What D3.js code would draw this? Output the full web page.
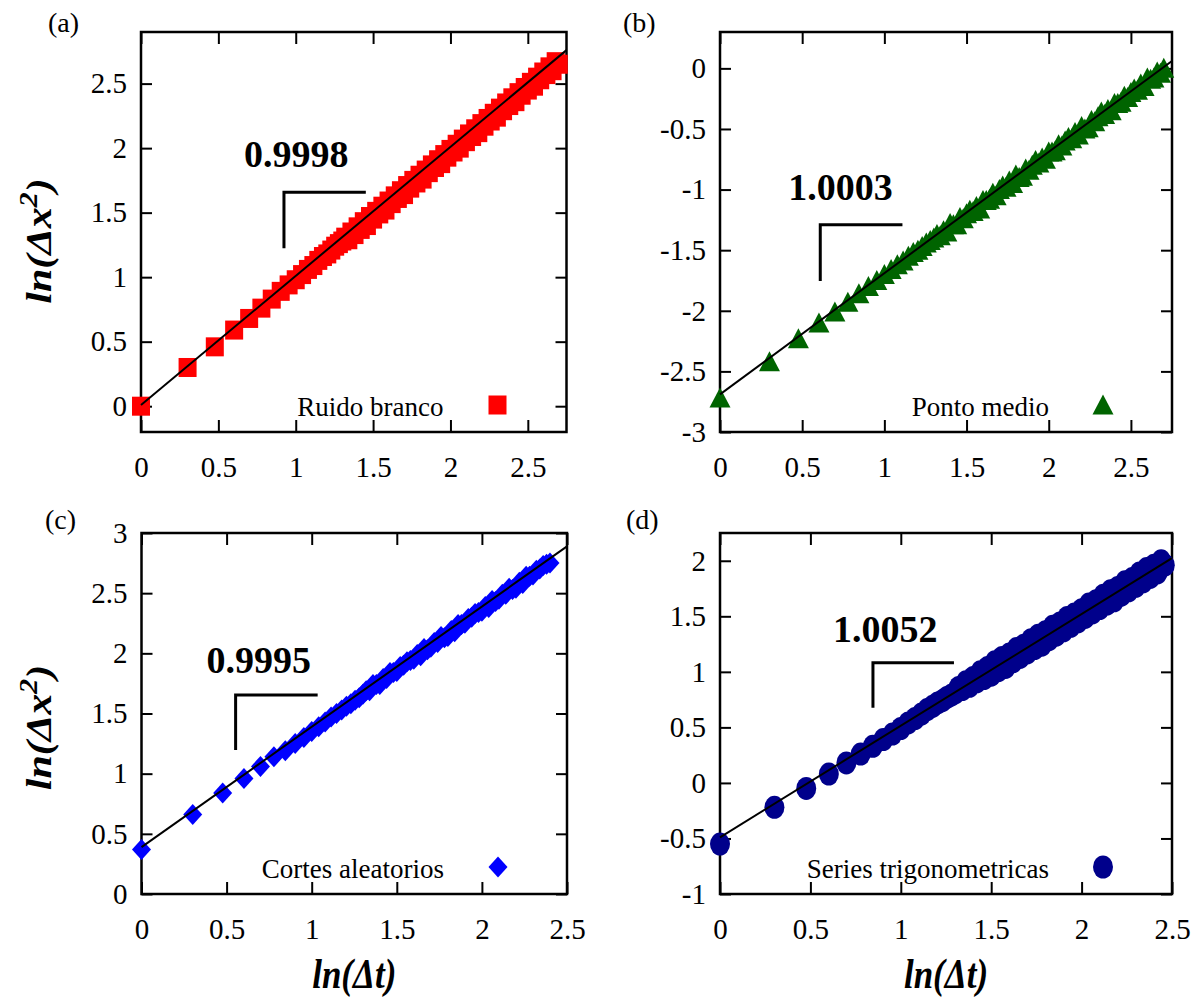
<!DOCTYPE html>
<html>
<head>
<meta charset="utf-8">
<script src="https://cdn.jsdelivr.net/npm/d3@7"></script>
<style>
	body { margin: 0; background: #fff; }
	svg { display: block; }
	svg text { font-family: "Liberation Serif", "DejaVu Serif", serif; fill: #000; }
	.frame { fill: none; stroke: #000; stroke-width: 2.5; }
	.axis path.domain { display: none; }
	.axis line { stroke: #000; stroke-width: 2; }
	.axis text { font-size: 29px; }
	.fit-line { fill: none; stroke: #000; stroke-width: 2; }
	.bracket { fill: none; stroke: #000; stroke-width: 3; }
	.slope-label { font-size: 38px; font-weight: bold; }
	.legend-label { font-size: 27px; }
	.panel-label { font-size: 28px; }
	.axis-title { font-size: 35px; font-weight: bold; font-style: italic; }
</style>
</head>
<body>
<svg id="chart" width="1202" height="997"></svg>
<script>

// ln(Δt) values, shared by the four series (each series uses the first n)
const lnDt = [0, 0.301, 0.477, 0.602, 0.699, 0.778, 0.845, 0.903, 0.954, 1.0,
	1.041, 1.079, 1.114, 1.146, 1.176, 1.204, 1.23, 1.255, 1.279, 1.301,
	1.32, 1.34, 1.36, 1.38, 1.40, 1.42, 1.44, 1.46, 1.48, 1.50,
	1.52, 1.54, 1.56, 1.58, 1.60, 1.62, 1.64, 1.66, 1.68, 1.70,
	1.72, 1.74, 1.76, 1.78, 1.80, 1.82, 1.84, 1.86, 1.88, 1.90,
	1.92, 1.94, 1.96, 1.98, 2.00, 2.02, 2.04, 2.06, 2.08, 2.10,
	2.12, 2.14, 2.16, 2.18, 2.20, 2.22, 2.24, 2.26, 2.28, 2.30,
	2.32, 2.34, 2.36, 2.38, 2.40, 2.42, 2.44, 2.46, 2.48, 2.50,
	2.52, 2.54, 2.56, 2.58, 2.60, 2.62, 2.64, 2.66, 2.68, 2.70];

// ln(Δx²) per series
const yRuido = [0.00, 0.30, 0.46, 0.59, 0.68, 0.76, 0.83, 0.89, 0.94, 0.98,
	1.02, 1.06, 1.09, 1.13, 1.16, 1.18, 1.21, 1.24, 1.26, 1.28,
	1.31, 1.29, 1.35, 1.33, 1.39, 1.37, 1.43, 1.40, 1.47, 1.45,
	1.51, 1.49, 1.55, 1.52, 1.59, 1.57, 1.63, 1.61, 1.67, 1.64,
	1.71, 1.69, 1.75, 1.73, 1.79, 1.76, 1.83, 1.81, 1.87, 1.85,
	1.91, 1.88, 1.95, 1.93, 1.99, 1.97, 2.03, 2.00, 2.07, 2.05,
	2.11, 2.09, 2.15, 2.12, 2.19, 2.17, 2.23, 2.21, 2.27, 2.24,
	2.31, 2.29, 2.35, 2.33, 2.39, 2.36, 2.43, 2.41, 2.47, 2.45,
	2.51, 2.48, 2.55, 2.53, 2.59, 2.57, 2.63, 2.60, 2.67, 2.65];

const yPonto = [-2.72, -2.42, -2.23, -2.10, -2.01, -1.93, -1.86, -1.80, -1.75, -1.70,
	-1.66, -1.62, -1.59, -1.55, -1.52, -1.50, -1.47, -1.44, -1.42, -1.40,
	-1.37, -1.38, -1.34, -1.35, -1.28, -1.29, -1.29, -1.23, -1.24, -1.20,
	-1.17, -1.18, -1.14, -1.16, -1.09, -1.09, -1.08, -1.03, -1.05, -1.00,
	-0.97, -0.98, -0.93, -0.95, -0.88, -0.90, -0.89, -0.83, -0.84, -0.80,
	-0.76, -0.78, -0.74, -0.75, -0.69, -0.69, -0.68, -0.63, -0.64, -0.60,
	-0.57, -0.58, -0.53, -0.55, -0.48, -0.50, -0.49, -0.43, -0.44, -0.40,
	-0.36, -0.38, -0.34, -0.35, -0.29, -0.29, -0.28, -0.23, -0.24, -0.20,
	-0.17, -0.18, -0.13, -0.15, -0.08, -0.09, -0.08, -0.03, -0.04, 0.00];

const yCortes = [0.37, 0.66, 0.84, 0.96, 1.06, 1.14, 1.19, 1.25, 1.30, 1.35,
	1.39, 1.43, 1.47, 1.50, 1.53, 1.56, 1.58, 1.61, 1.63, 1.66,
	1.69, 1.69, 1.74, 1.74, 1.74, 1.79, 1.79, 1.84, 1.84, 1.85,
	1.89, 1.90, 1.93, 1.94, 1.95, 1.99, 1.98, 2.04, 2.03, 2.05,
	2.09, 2.09, 2.14, 2.13, 2.14, 2.19, 2.18, 2.24, 2.24, 2.25,
	2.29, 2.30, 2.33, 2.34, 2.35, 2.39, 2.38, 2.44, 2.43, 2.45,
	2.49, 2.49, 2.54, 2.53, 2.54, 2.59, 2.58, 2.64, 2.64, 2.65,
	2.69, 2.70, 2.73, 2.74, 2.75];

const yTrig = [-0.55, -0.22, -0.05, 0.08, 0.18, 0.26, 0.33, 0.39, 0.44, 0.49,
	0.54, 0.58, 0.62, 0.66, 0.69, 0.72, 0.74, 0.77, 0.79, 0.81,
	0.86, 0.84, 0.91, 0.87, 0.95, 0.91, 1.00, 0.94, 1.04, 0.97,
	1.09, 1.01, 1.13, 1.04, 1.16, 1.09, 1.21, 1.13, 1.24, 1.17,
	1.29, 1.21, 1.33, 1.24, 1.36, 1.29, 1.41, 1.33, 1.44, 1.37,
	1.49, 1.41, 1.52, 1.45, 1.56, 1.49, 1.61, 1.53, 1.64, 1.57,
	1.69, 1.61, 1.73, 1.64, 1.76, 1.69, 1.81, 1.73, 1.84, 1.77,
	1.89, 1.81, 1.93, 1.85, 1.96, 1.89, 2.00, 1.96];

// linear fits: slope and intercept
const fitSlopes = [0.9998, 1.0003, 0.9995, 1.0052];
const fitIntercepts = [0.01, -2.69, 0.39, -0.49];

// tick labels
const xTicksLong = [0, 0.5, 1, 1.5, 2, 2.5];
const yTicksA = [0, 0.5, 1, 1.5, 2, 2.5];
const yTicksB = [-3, -2.5, -2, -1.5, -1, -0.5, 0];
const yTicksC = [0, 0.5, 1, 1.5, 2, 2.5, 3];
const yTicksD = [-1, -0.5, 0, 0.5, 1, 1.5, 2];

const seriesNames = ['Ruido branco', 'Ponto medio', 'Cortes aleatorios', 'Series trigonometricas'];
const panelLetters = ['(a)', '(b)', '(c)', '(d)'];

// slope bracket: corner (x, y), horizontal end x, vertical end y, label pos
const bracketX = [0.924, 0.61, 0.553, 0.846];
const bracketY = [1.659, -1.291, 1.654, 1.081];
const bracketEndX = [1.453, 1.11, 1.035, 1.294];
const bracketEndY = [1.225, -1.755, 1.197, 0.676];
const slopeLabelX = [0.665, 0.415, 0.382, 0.625];
const slopeLabelY = [1.853, -1.084, 1.837, 1.27];


class LnPanel {

	/**
	* constructor function
	* @param {object} svg d3 selection of the svg
	* @param {object} options panel settings
	* @returns {undefined}
	*/
	constructor(svg, options) {
		let defaults = {
			box: {left: 0, top: 0, right: 100, bottom: 100},
			xDomain: [0, 2.5],
			yDomain: [0, 3],
			yTicks: [],
			color: '#000',
			shape: 'square',
			showXTitle: false,
			showYTitle: false,
			titleStretch: 1.2// the source figure is a bit stretched vertically
		};
		this.settings = Object.assign({}, defaults, options);
		this.svg = svg;
		let box = this.settings.box;
		this.width = box.right - box.left;
		this.height = box.bottom - box.top;
		this.g = svg.append('g')
			.attr('transform', 'translate(' + box.left + ',' + box.top + ')');

		this.x = d3.scaleLinear().domain(this.settings.xDomain).range([0, this.width]);
		this.y = d3.scaleLinear().domain(this.settings.yDomain).range([this.height, 0]);
	}


	/**
	* draw a marker of this panel's shape into a selection of g's
	*/
	_drawMarker(sel) {
		let s = this.settings;
		if (s.shape === 'square') {
			sel.append('rect').attr('x', -9).attr('y', -9.5).attr('width', 18).attr('height', 19);
		} else if (s.shape === 'triangle') {
			sel.append('path').attr('d', 'M0,-10.5L10.5,9.5L-10.5,9.5Z');
		} else if (s.shape === 'diamond') {
			sel.append('path').attr('d', 'M0,-10.5L9.5,0L0,10.5L-9.5,0Z');
		} else {
			sel.append('ellipse').attr('rx', 10).attr('ry', 11.5);
		}
		sel.attr('fill', s.color);
	}


	_drawAxes() {
		let fmt = d => String(d);
		let x = this.x, y = this.y;

		let axes = [
			this.g.append('g').attr('transform', 'translate(0,' + this.height + ')')
				.call(d3.axisBottom(x).tickValues(xTicksLong).tickSize(-12).tickPadding(24).tickFormat(fmt)),
			this.g.append('g')
				.call(d3.axisTop(x).tickValues(xTicksLong).tickSize(-12).tickFormat('')),
			this.g.append('g')
				.call(d3.axisLeft(y).tickValues(this.settings.yTicks).tickSize(-11).tickPadding(14).tickFormat(fmt)),
			this.g.append('g').attr('transform', 'translate(' + this.width + ',0)')
				.call(d3.axisRight(y).tickValues(this.settings.yTicks).tickSize(-11).tickFormat(''))
		];
		// drop d3's default sans-serif font so the css one applies
		axes.forEach(a => a.attr('class', 'axis').attr('font-family', null).attr('font-size', null));

		this.g.append('rect').attr('class', 'frame')
			.attr('width', this.width).attr('height', this.height);
	}


	_drawPoints() {
		let data = this.settings.values.map((v, i) => ({x: lnDt[i], y: v}));

		let marks = this.g.append('g')
			.selectAll('.mark')
			.data(data)
			.enter()
			.append('g')
			.attr('class', 'mark')
			.attr('transform', d => 'translate(' + this.x(d.x) + ',' + this.y(d.y) + ')');
		this._drawMarker(marks);
	}


	_drawFit() {
		let s = this.settings;
		let line = d3.line()
			.x(d => this.x(d))
			.y(d => this.y(s.slope * d + s.intercept));
		this.g.append('path').attr('class', 'fit-line')
			.attr('d', line(this.x.domain()));
	}


	_drawBracket() {
		let s = this.settings, b = s.bracket;
		let pts = [[b.endX, b.y], [b.x, b.y], [b.x, b.endY]];
		this.g.append('path').attr('class', 'bracket')
			.attr('d', d3.line().x(d => this.x(d[0])).y(d => this.y(d[1]))(pts));
		this.g.append('text').attr('class', 'slope-label')
			.attr('x', this.x(b.labelX)).attr('y', this.y(b.labelY))
			.text(s.slope.toFixed(4));
	}


	_drawLegend() {
		this.g.append('text').attr('class', 'legend-label')
			.attr('x', this.width - 123).attr('y', this.height - 16)
			.attr('text-anchor', 'end')
			.text(this.settings.name);
		let m = this.g.append('g')
			.attr('transform', 'translate(' + (this.width - 69) + ',' + (this.height - 27) + ')');
		this._drawMarker(m);
	}


	_drawTitles() {
		let s = this.settings,
			k = s.titleStretch;
		this.svg.append('text').attr('class', 'panel-label')
			.attr('x', s.letterPos[0]).attr('y', s.letterPos[1])
			.text(s.letter);

		if (s.showXTitle) {
			this.g.append('text').attr('class', 'axis-title')
				.attr('transform', 'translate(' + (this.width / 2) + ',' + (this.height + 94) + ') scale(1,' + k + ')')
				.attr('text-anchor', 'middle')
				.text('ln(Δt)');
		}
		if (s.showYTitle) {
			let t = this.svg.append('text').attr('class', 'axis-title')
				.attr('text-anchor', 'middle')
				.attr('transform', 'translate(51,' + (s.box.top + this.height / 2 + s.yTitleShift) + ') rotate(-90) scale(' + k + ',1)');
			t.append('tspan').text('ln(Δx');
			t.append('tspan').attr('dy', -14).style('font-size', '25px').text('2');
			t.append('tspan').attr('dy', 14).text(')');
		}
	}


	draw() {
		this._drawAxes();
		this._drawPoints();
		this._drawFit();
		this._drawBracket();
		this._drawLegend();
		this._drawTitles();
	}
}


const svg = d3.select('#chart');

const panelSeries = [yRuido, yPonto, yCortes, yTrig];
const panelOpts = [
	{box: {left: 141, top: 32, right: 566.5, bottom: 432}, xDomain: [0, 2.75], yDomain: [-0.2, 2.9], yTicks: yTicksA,
		color: '#ff0000', shape: 'square', showYTitle: true, yTitleShift: 9, letterPos: [48, 32]},
	{box: {left: 720, top: 32, right: 1172, bottom: 432}, xDomain: [0, 2.75], yDomain: [-3, 0.3], yTicks: yTicksB,
		color: '#006400', shape: 'triangle', letterPos: [623, 32]},
	{box: {left: 141.5, top: 533, right: 567, bottom: 894}, xDomain: [0, 2.5], yDomain: [0, 3], yTicks: yTicksC,
		color: '#0000ff', shape: 'diamond', showXTitle: true, showYTitle: true, yTitleShift: 14, letterPos: [45, 529]},
	{box: {left: 720, top: 533, right: 1172, bottom: 894}, xDomain: [0, 2.5], yDomain: [-1, 2.25], yTicks: yTicksD,
		color: '#00008b', shape: 'circle', showXTitle: true, letterPos: [626, 529]}
];

panelOpts.forEach((opt, i) => {
	let panel = new LnPanel(svg, Object.assign({}, opt, {
		values: panelSeries[i],
		slope: fitSlopes[i],
		intercept: fitIntercepts[i],
		name: seriesNames[i],
		letter: panelLetters[i],
		bracket: {
			x: bracketX[i], y: bracketY[i],
			endX: bracketEndX[i], endY: bracketEndY[i],
			labelX: slopeLabelX[i], labelY: slopeLabelY[i]
		}
	}));
	panel.draw();
});

</script>
</body>
</html>
